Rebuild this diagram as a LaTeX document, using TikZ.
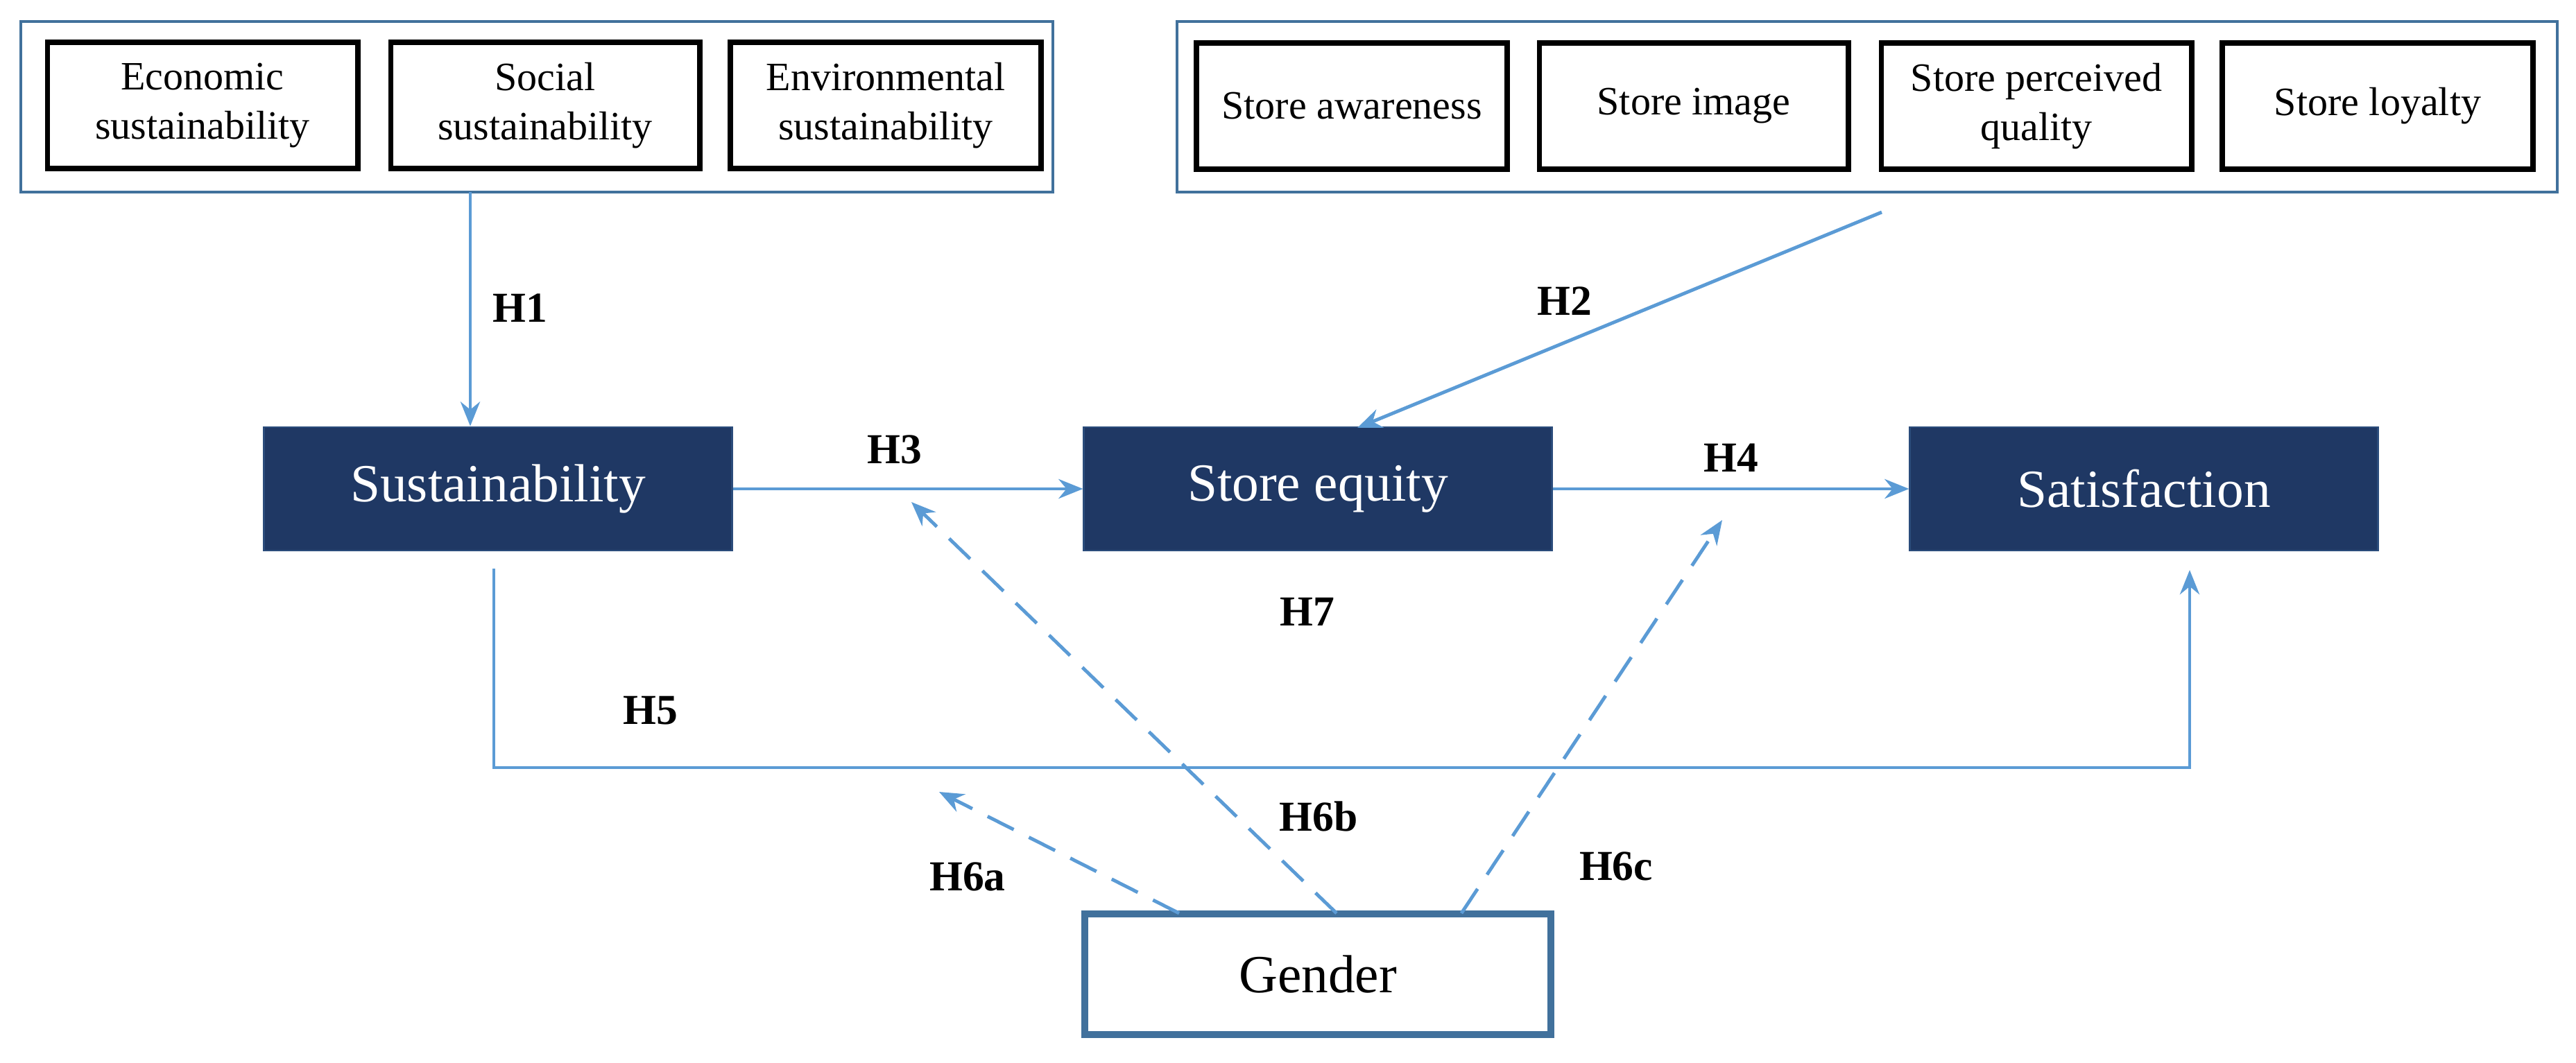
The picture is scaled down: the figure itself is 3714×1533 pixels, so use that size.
\documentclass[tikz,border=0pt]{standalone}
\usepackage{fontspec}
\setmainfont{Liberation Serif}
\usetikzlibrary{arrows.meta}
\definecolor{navy}{HTML}{1F3864}
\definecolor{arr}{HTML}{5B9BD5}
\definecolor{grp}{HTML}{41719C}
\begin{document}
\begin{tikzpicture}[x=0.01cm,y=-0.01cm,
  grp/.style={draw=grp,line width=1.2pt},
  item/.style={draw=black,line width=2.2pt,font=\fontsize{16.5}{20}\selectfont,align=center,minimum height=1.82cm,inner sep=0pt},
  main/.style={fill=navy,draw=navy!80!arr,line width=0.8pt,text=white,font=\fontsize{22}{26}\selectfont,minimum width=6.74cm,minimum height=1.78cm},
  lab/.style={font=\bfseries\fontsize{17.5}{20}\selectfont},
  con/.style={draw=arr,line width=1.4pt,-{Stealth[length=10pt,width=8pt]}},
  dcon/.style={con,dash pattern=on 12pt off 7pt}]
\useasboundingbox (0,0) rectangle (3714,1533);
% groups
\draw[grp] (30,31) rectangle (1518,277);
\draw[grp] (1697,31) rectangle (3687,277);
\coordinate (g1b) at (678,277);
\coordinate (g2b) at (2713,306);
% items
\node[item,minimum width=4.47cm] (e1) at (292,152) {Economic\\sustainability};
\node[item,minimum width=4.45cm] (e2) at (786,152) {Social\\sustainability};
\node[item,minimum width=4.48cm] (e3) at (1277,152) {Environmental\\sustainability};
\node[item,minimum width=4.48cm] (s1) at (1949,153) {Store awareness};
\node[item,minimum width=4.45cm] (s2) at (2442,153) {Store image};
\node[item,minimum width=4.47cm] (s3) at (2936,153) {Store perceived\\quality};
\node[item,minimum width=4.48cm] (s4) at (3428,153) {Store loyalty};
% main
\node[main] (sus) at (718,705) {Sustainability};
\node[main] (se) at (1900,705) {Store equity};
\node[main] (sat) at (3091,705) {Satisfaction};
\node[draw=grp,line width=3pt,minimum width=6.72cm,minimum height=1.74cm,font=\fontsize{22}{26}\selectfont] (gen) at (1900,1405) {Gender};
% connectors
\draw[con] (g1b) -- (sus.north -| g1b);
\draw[con] (g2b) -- (1957,617);
\draw[con] (sus.east) -- (se.west);
\draw[con] (se.east) -- (sat.west);
\coordinate (h5a) at (712,820);
\coordinate (h5b) at (3157,822);
\draw[con] (h5a) -- (712,1107) -- (3157,1107) -- (h5b);
\coordinate (t6a) at (1354,1142);
\coordinate (t6b) at (1314,724);
\coordinate (t6c) at (2483,750);
\draw[dcon] (1700,1317) -- (t6a);
\draw[dcon] (1927,1317) -- (t6b);
\draw[dcon] (2107,1317) -- (t6c);
% labels
\node[lab] (l1) at (750,444) {H1};
\node[lab] (l2) at (2256,434) {H2};
\node[lab] (l3) at (1290,648) {H3};
\node[lab] (l4) at (2496,660) {H4};
\node[lab] (l5) at (938,1025) {H5};
\node[lab] (l6a) at (1395,1264) {H6a};
\node[lab] (l6b) at (1901,1177) {H6b};
\node[lab] (l6c) at (2330,1249) {H6c};
\node[lab] (l7) at (1885,882) {H7};
\end{tikzpicture}
\end{document}
